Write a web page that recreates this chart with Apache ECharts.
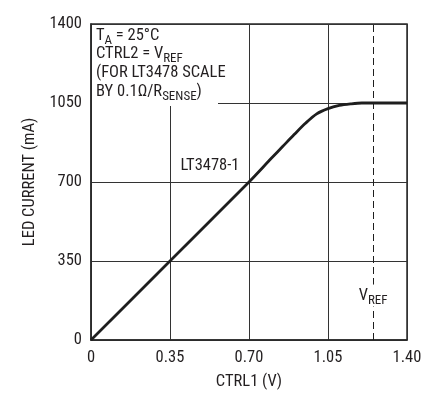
<!DOCTYPE html>
<html>
<head>
<meta charset="utf-8">
<script src="https://cdn.jsdelivr.net/npm/echarts@6/dist/echarts.min.js"></script>
<style>
html,body{margin:0;padding:0;background:#fff;}
#chart{width:439px;height:399px;}
</style>
</head>
<body>
<div id="chart"></div>
<script>
// ---- data ----
const xTicks = [0, 0.35, 0.70, 1.05, 1.40];
const xTickLabels = ['0', '0.35', '0.70', '1.05', '1.40'];
const yTicks = [0, 350, 700, 1050, 1400];
const yTickLabels = ['0', '350', '700', '1050', '1400'];
const ctrl1 = [0, 0.35, 0.70, 0.80, 0.85, 0.90, 0.95, 1.00, 1.05, 1.10, 1.15, 1.20, 1.30, 1.40];
const ledCurrent = [0, 350, 700, 806, 858, 910, 960, 1002, 1025, 1039, 1046, 1050, 1050, 1050];
const vref = 1.25;
const seriesLabel = 'LT3478-1';
const seriesLabelAt = [0.527, 772];
const vrefLabelAt = [1.25, 197];
const noteLines = [
  '{b|T}{sub|A}{b| = 25°C}',
  '{b|CTRL2 = V}{sub|REF}',
  '{b|(FOR LT3478 SCALE}',
  '{b|BY 0.1Ω/R}{sub|SENSE}{b|)}'
];

const FONT = '"Roboto Condensed", "Liberation Sans Narrow", sans-serif';
const FS = 16.5;
const TXT = '#231f20';

const chart = echarts.init(document.getElementById('chart'), null, {renderer: 'canvas'});

const richSub = {
  b: {fontFamily: FONT, fontSize: FS, lineHeight: 16, color: TXT, verticalAlign: 'top'},
  sub: {fontFamily: FONT, fontSize: 13, lineHeight: 12, color: TXT, verticalAlign: 'top', padding: [7, 0, 0, 0]}
};

const noteTops = [27, 45.7, 64.3, 83];
const graphicEls = [{
  type: 'rect', z: 50,
  shape: {x: 92, y: 25, width: 126, height: 81},
  style: {fill: '#fff'}
}];
noteLines.forEach((t, i) => {
  graphicEls.push({
    type: 'text', z: 51, x: 96, y: noteTops[i],
    style: {text: t, rich: richSub, fill: TXT, font: FS + 'px ' + FONT, verticalAlign: 'top'}
  });
});

const option = {
  animation: false,
  backgroundColor: '#fff',
  grid: {left: 91, right: 32, top: 24, bottom: 59, show: true, borderColor: '#2a2a2a', borderWidth: 1.5, backgroundColor: 'transparent'},
  xAxis: {
    type: 'value', min: 0, max: 1.4, interval: 0.35,
    name: 'CTRL1 (V)', nameLocation: 'middle', nameGap: 33,
    nameTextStyle: {fontFamily: FONT, fontSize: FS, color: TXT},
    axisLine: {show: true, lineStyle: {color: '#2a2a2a', width: 1.5}},
    axisTick: {show: false},
    splitLine: {show: true, lineStyle: {color: '#333', width: 1}},
    axisLabel: {
      margin: 9, fontFamily: FONT, fontSize: FS, color: TXT,
      formatter: v => { const i = xTicks.findIndex(t => Math.abs(t - v) < 1e-6); return i >= 0 ? xTickLabels[i] : ''; }
    }
  },
  yAxis: {
    type: 'value', min: 0, max: 1400, interval: 350,
    name: 'LED CURRENT (mA)', nameLocation: 'middle', nameGap: 46,
    nameTextStyle: {fontFamily: FONT, fontSize: FS, color: TXT},
    axisLine: {show: true, lineStyle: {color: '#2a2a2a', width: 1.5}},
    axisTick: {show: false},
    splitLine: {show: true, lineStyle: {color: '#333', width: 1}},
    axisLabel: {
      margin: 9, fontFamily: FONT, fontSize: FS, color: TXT,
      formatter: v => { const i = yTicks.findIndex(t => Math.abs(t - v) < 1e-6); return i >= 0 ? yTickLabels[i] : ''; }
    }
  },
  graphic: graphicEls,
  series: [{
    type: 'line',
    data: ctrl1.map((x, i) => [x, ledCurrent[i]]),
    smooth: 0.3,
    showSymbol: false,
    lineStyle: {color: '#1e1e1e', width: 2.8},
    z: 10,
    markLine: {
      silent: true, symbol: 'none',
      lineStyle: {color: '#1e1e1e', width: 1, type: [7, 4]},
      label: {show: false},
      data: [{xAxis: vref}]
    },
    markPoint: {
      silent: true, symbol: 'circle', symbolSize: 1,
      itemStyle: {color: 'rgba(0,0,0,0)'},
      data: [
        {coord: seriesLabelAt, label: {show: true, position: 'inside', formatter: seriesLabel, fontFamily: FONT, fontSize: FS, color: TXT}},
        {coord: vrefLabelAt, label: {show: true, position: 'inside', formatter: '{b|V}{sub|REF}', backgroundColor: '#fff', padding: [3, 1, 3, 1], rich: richSub}}
      ]
    }
  }]
};
chart.setOption(option);
</script>
</body>
</html>
